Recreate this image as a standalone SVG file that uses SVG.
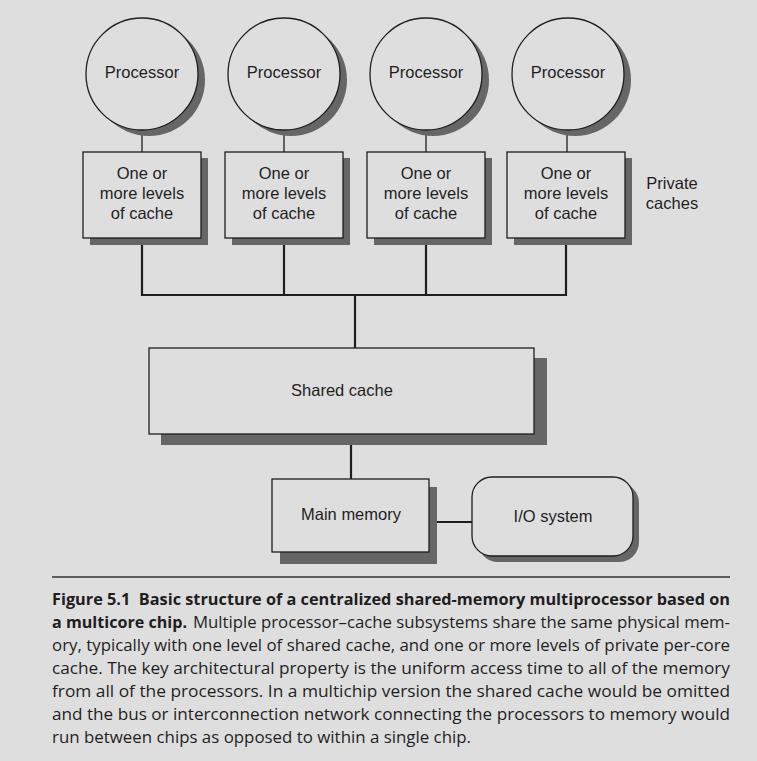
<svg xmlns="http://www.w3.org/2000/svg" width="757" height="761" viewBox="0 0 757 761">
<defs>
<style>
.bg{fill:#dedede}
.node{fill:#dedede;stroke:#1e1e1e;stroke-width:1.3}
.sh{fill:#666666}
.lbl{font-family:"Liberation Sans",Arial,sans-serif;font-size:16.5px;fill:#1e1e1e;text-anchor:middle}
.thin{stroke:#1e1e1e;stroke-width:1.3;fill:none}
.bus{stroke:#1e1e1e;stroke-width:2.2;fill:none}
.cap{font-family:"Open Sans","Noto Sans","Liberation Sans",sans-serif;font-size:16.5px;fill:#1e1e1e}
.capb{font-weight:bold}
</style>
</defs>
<rect class="bg" x="0" y="0" width="757" height="761"/>

<g id="connectors">
<line class="thin" x1="142" y1="129" x2="142" y2="152"/>
<line class="thin" x1="284" y1="129" x2="284" y2="152"/>
<line class="thin" x1="426" y1="129" x2="426" y2="152"/>
<line class="thin" x1="567" y1="129" x2="567" y2="152"/>
<polyline class="bus" points="142,238 142,295 566,295 566,238"/>
<line class="bus" x1="284" y1="238" x2="284" y2="295"/>
<line class="bus" x1="426" y1="238" x2="426" y2="295"/>
<line class="bus" x1="355" y1="295" x2="355" y2="348"/>
<line class="bus" x1="351" y1="434" x2="351" y2="479"/>
<line class="bus" x1="429" y1="522" x2="472" y2="522"/>
</g>

<g id="proc1">
<circle class="sh" cx="149" cy="80" r="56"/>
<circle class="node" cx="142" cy="74" r="56"/>
<text class="lbl" x="142" y="78">Processor</text>
</g>
<g id="proc2">
<circle class="sh" cx="291" cy="80" r="56"/>
<circle class="node" cx="284" cy="74" r="56"/>
<text class="lbl" x="284" y="78">Processor</text>
</g>
<g id="proc3">
<circle class="sh" cx="433" cy="80" r="56"/>
<circle class="node" cx="426" cy="74" r="56"/>
<text class="lbl" x="426" y="78">Processor</text>
</g>
<g id="proc4">
<circle class="sh" cx="575" cy="80" r="56"/>
<circle class="node" cx="568" cy="74" r="56"/>
<text class="lbl" x="568" y="78">Processor</text>
</g>

<g id="cache1">
<rect class="sh" x="90" y="158" width="118" height="87"/>
<rect class="node" x="83" y="152" width="118" height="86"/>
<text class="lbl" x="142" y="179">One or</text>
<text class="lbl" x="142" y="199">more levels</text>
<text class="lbl" x="142" y="219">of cache</text>
</g>
<g id="cache2">
<rect class="sh" x="232" y="158" width="118" height="87"/>
<rect class="node" x="225" y="152" width="118" height="86"/>
<text class="lbl" x="284" y="179">One or</text>
<text class="lbl" x="284" y="199">more levels</text>
<text class="lbl" x="284" y="219">of cache</text>
</g>
<g id="cache3">
<rect class="sh" x="374" y="158" width="118" height="87"/>
<rect class="node" x="367" y="152" width="118" height="86"/>
<text class="lbl" x="426" y="179">One or</text>
<text class="lbl" x="426" y="199">more levels</text>
<text class="lbl" x="426" y="219">of cache</text>
</g>
<g id="cache4">
<rect class="sh" x="514" y="158" width="118" height="87"/>
<rect class="node" x="507" y="152" width="118" height="86"/>
<text class="lbl" x="566" y="179">One or</text>
<text class="lbl" x="566" y="199">more levels</text>
<text class="lbl" x="566" y="219">of cache</text>
</g>

<g id="private-label">
<text class="lbl" x="672" y="189">Private</text>
<text class="lbl" x="672" y="209">caches</text>
</g>

<g id="shared-cache">
<rect class="sh" x="161" y="358" width="386" height="87"/>
<rect class="node" x="149" y="348" width="385" height="86"/>
<text class="lbl" x="342" y="396">Shared cache</text>
</g>

<g id="main-memory">
<rect class="sh" x="280" y="487" width="157" height="77"/>
<rect class="node" x="272" y="479" width="157" height="73"/>
<text class="lbl" x="351" y="520">Main memory</text>
</g>

<g id="io-system">
<rect class="sh" x="478" y="483" width="161" height="79" rx="20" ry="20"/>
<rect class="node" x="472" y="477" width="161" height="79" rx="20" ry="20"/>
<text class="lbl" x="553" y="522">I/O system</text>
</g>

<g id="caption">
<line x1="52" y1="577" x2="730" y2="577" stroke="#333" stroke-width="1.3"/>
<text class="cap capb" x="52" y="605" textLength="678" lengthAdjust="spacingAndGlyphs" xml:space="preserve">Figure 5.1  Basic structure of a centralized shared-memory multiprocessor based on</text>
<text class="cap capb" x="52" y="628" textLength="135" lengthAdjust="spacingAndGlyphs">a multicore chip.</text>
<text class="cap" x="193" y="628" textLength="537" lengthAdjust="spacingAndGlyphs">Multiple processor–cache subsystems share the same physical mem-</text>
<text class="cap" x="52" y="651" textLength="678" lengthAdjust="spacingAndGlyphs">ory, typically with one level of shared cache, and one or more levels of private per-core</text>
<text class="cap" x="52" y="674" textLength="678" lengthAdjust="spacingAndGlyphs">cache. The key architectural property is the uniform access time to all of the memory</text>
<text class="cap" x="52" y="697" textLength="678" lengthAdjust="spacingAndGlyphs">from all of the processors. In a multichip version the shared cache would be omitted</text>
<text class="cap" x="52" y="720" textLength="678" lengthAdjust="spacingAndGlyphs">and the bus or interconnection network connecting the processors to memory would</text>
<text class="cap" x="52" y="743" textLength="419" lengthAdjust="spacingAndGlyphs">run between chips as opposed to within a single chip.</text>
</g>
</svg>
